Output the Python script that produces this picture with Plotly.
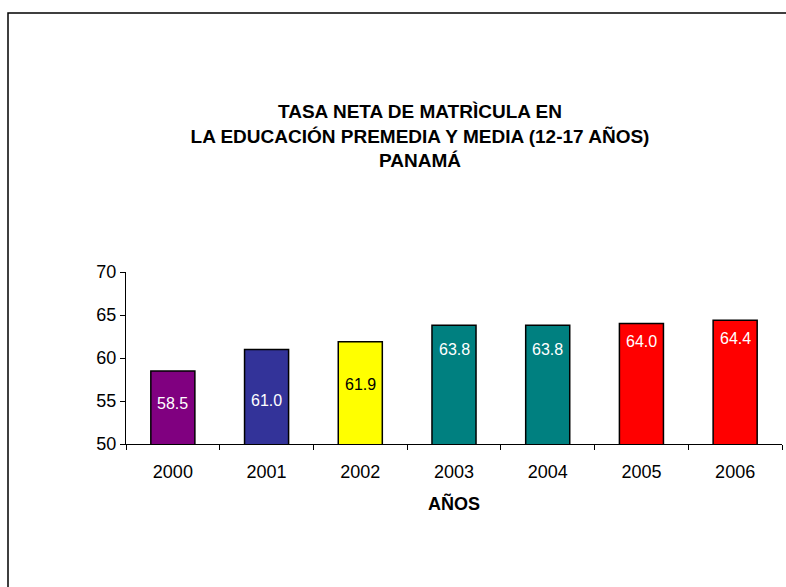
import plotly.graph_objects as go

years = ["2000", "2001", "2002", "2003", "2004", "2005", "2006"]
tasa = [58.5, 61.0, 61.9, 63.8, 63.8, 64.0, 64.4]
labels = ["58.5", "61.0", "61.9", "63.8", "63.8", "64.0", "64.4"]

# styles
bar_colors = ["#800080", "#333399", "#FFFF00", "#008080", "#008080", "#FF0000", "#FF0000"]
label_colors = ["white", "white", "black", "white", "white", "white", "white"]
label_offsets = [32.5, 51, 42.5, 24, 24, 18, 18.5]  # px below bar top

W, H = 786, 587
L, R, T, B = 126, 4, 272, 143
pw, ph = W - L - R, H - T - B

fig = go.Figure()
fig.add_trace(go.Bar(
    x=years, y=tasa,
    marker=dict(color=bar_colors, line=dict(color="black", width=1.5)),
    width=0.47, hoverinfo="x+y"))

for i, (v, lab, col, off) in enumerate(zip(tasa, labels, label_colors, label_offsets)):
    fig.add_annotation(x=i, y=v, text=lab, showarrow=False, yanchor="middle",
                       yshift=-off, font=dict(size=16, color=col,
                                              family="Liberation Sans, Arial"))

# frame (left + top border of the chart area)
fx0 = (8 - L) / pw
fy_top = (H - B - 13) / ph
fig.add_shape(type="path", xref="paper", yref="paper",
              path=f"M {fx0} -2 L {fx0} {fy_top} L 1.2 {fy_top}",
              line=dict(color="black", width=1.5))

fig.update_layout(
    width=W, height=H,
    margin=dict(l=L, r=R, t=T, b=B, pad=0),
    paper_bgcolor="white", plot_bgcolor="white",
    showlegend=False,
    font=dict(family="Liberation Sans, Arial", size=18, color="black"),
    title=dict(text="<b>TASA NETA DE MATRÌCULA EN<br>LA EDUCACIÓN PREMEDIA Y MEDIA (12-17 AÑOS)<br>PANAMÁ</b>",
               x=420 / W, xanchor="center", xref="container",
               y=1 - 118 / H, yanchor="top", yref="container",
               font=dict(size=19, family="Liberation Sans, Arial", color="black")),
    xaxis=dict(type="category", range=[-0.5, 6.5], automargin=False,
               showline=True, linecolor="black", linewidth=1,
               ticks="outside", ticklen=5, tickcolor="black", tickson="boundaries",
               showgrid=False, tickfont=dict(size=18), tickangle=0,
               ticklabelstandoff=11,
               title=dict(text="<b>AÑOS</b>", standoff=16, font=dict(size=18))),
    yaxis=dict(range=[50, 70], tickvals=[50, 55, 60, 65, 70], showline=True,
               automargin=False,
               linecolor="black", linewidth=1, ticks="outside", ticklen=5,
               tickcolor="black", showgrid=False, zeroline=False,
               tickfont=dict(size=18)),
)

fig.write_html("out.html",
               config={"displayModeBar": False},
               post_script="document.body.style.margin='0';"
                           "document.body.style.overflow='hidden';")
